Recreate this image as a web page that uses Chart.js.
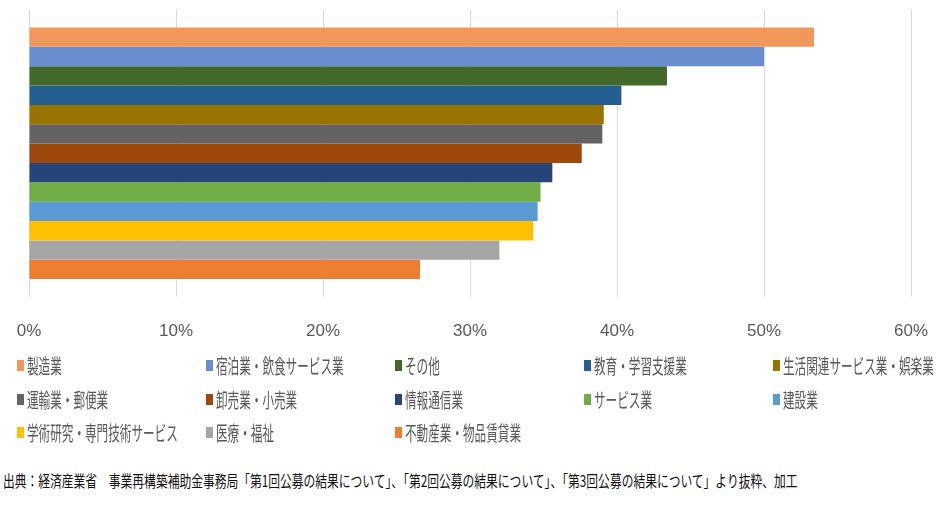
<!DOCTYPE html>
<html lang="ja">
<head>
    <meta charset="UTF-8">
    <title>業種別 採択率</title>
    <script src="https://cdn.jsdelivr.net/npm/chart.js"></script>
    <style>
        html, body { margin: 0; padding: 0; background: #fff; }
        #wrap { position: relative; width: 946px; height: 512px; overflow: hidden; }
        #chartBox { position: absolute; left: 0; top: 0; width: 946px; height: 350px; }
        #legend { position: absolute; left: 17px; top: 349px; display: grid;
                  grid-template-columns: repeat(5, 189px); grid-auto-rows: 33.5px; }
        .item { display: flex; align-items: center; white-space: nowrap; }
        .box { width: 7px; height: 11px; margin-right: 3px; flex: none; }
        .lbl { display: inline-block; font-family: "Noto Sans CJK JP", sans-serif; font-size: 20px;
               color: #595959; transform: scaleX(0.58); transform-origin: left center; }
        #source { position: absolute; left: 3px; top: 468px; white-space: nowrap;
                  font-family: "Noto Sans CJK JP", sans-serif; font-size: 16px; color: #111;
                  transform: scaleX(0.735); transform-origin: left center; }
    </style>
</head>
<body>
<div id="wrap">
    <div id="chartBox"><canvas id="rateChart"></canvas></div>
    <div id="legend"></div>
    <div id="source">出典：経済産業省　事業再構築補助金事務局「第1回公募の結果について」、「第2回公募の結果について」、「第3回公募の結果について」より抜粋、加工</div>
</div>

<script>
    // 業種ごとの値 (%)
    const industries = [
        "製造業", "宿泊業・飲食サービス業", "その他", "教育・学習支援業", "生活関連サービス業・娯楽業",
        "運輸業・郵便業", "卸売業・小売業", "情報通信業", "サービス業", "建設業",
        "学術研究・専門技術サービス", "医療・福祉", "不動産業・物品賃貸業"
    ];
    const rates = [53.4, 50.0, 43.4, 40.3, 39.1, 39.0, 37.6, 35.6, 34.8, 34.6, 34.3, 32.0, 26.6];
    const barColors = [
        "#F1975A", "#698ED0", "#43682B", "#255E91", "#997300",
        "#636363", "#9E480E", "#264478", "#70AD47", "#5B9BD5",
        "#FFC000", "#A5A5A5", "#ED7D31"
    ];
    const xTicks = [0, 10, 20, 30, 40, 50, 60];

    const datasets = industries.map((name, i) => ({
        label: name,
        data: [rates[i]],
        backgroundColor: barColors[i],
        borderWidth: 0
    }));

    const ctx = document.getElementById("rateChart").getContext("2d");
    new Chart(ctx, {
        type: 'bar',
        data: { labels: [''], datasets },
        options: {
            indexAxis: 'y',
            responsive: true,
            maintainAspectRatio: false,
            animation: false,
            layout: { padding: { left: 29, right: 35, top: 10, bottom: 8 } },
            datasets: { bar: { categoryPercentage: 0.878, barPercentage: 1.0 } },
            plugins: {
                legend: { display: false },
                tooltip: { enabled: false }
            },
            scales: {
                x: {
                    min: xTicks[0],
                    max: xTicks[xTicks.length - 1],
                    afterBuildTicks: (axis) => { axis.ticks = xTicks.map(v => ({ value: v })); },
                    border: { display: false },
                    // tick marks kept invisible, only used to push the labels down
                    grid: { color: '#D9D9D9', lineWidth: 1, drawTicks: true, tickLength: 25, tickColor: 'rgba(0,0,0,0)' },
                    ticks: {
                        padding: 0,
                        color: '#595959',
                        font: { family: '"Liberation Sans", Arial, sans-serif', size: 17 },
                        callback: (v) => v + '%'
                    }
                },
                y: { display: false }
            }
        }
    });

    // 5列の凡例
    const legend = document.getElementById("legend");
    industries.forEach((name, i) => {
        const item = document.createElement("div");
        item.className = "item";
        item.innerHTML = `<span class="box" style="background:${barColors[i]}"></span><span class="lbl">${name}</span>`;
        legend.appendChild(item);
    });
</script>
</body>
</html>
